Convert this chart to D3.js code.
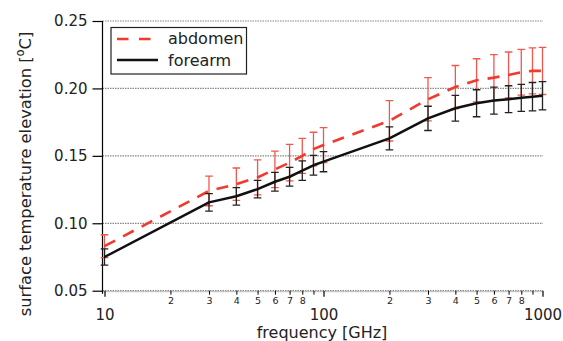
<!DOCTYPE html>
<html><head><meta charset="utf-8">
<script src="https://cdn.jsdelivr.net/npm/d3@7"></script>
<style>
html,body{margin:0;padding:0;background:#fff;}
svg{display:block;font-family:"DejaVu Sans",sans-serif;}
</style></head>
<body>
<svg id="chart" width="563" height="341"></svg>
<script>
const freqs = [10,30,40,50,60,70,80,90,100,200,300,400,500,600,700,800,900,1000];
const abdomen = [0.083,0.124,0.129,0.134,0.140,0.145,0.150,0.155,0.158,0.176,0.192,0.201,0.206,0.208,0.210,0.212,0.213,0.213];
const abdomenErr = [0.0085,0.011,0.012,0.013,0.0135,0.0135,0.013,0.0125,0.013,0.015,0.016,0.016,0.016,0.017,0.017,0.017,0.017,0.0175];
const forearm = [0.075,0.1155,0.120,0.1253,0.1308,0.1345,0.139,0.143,0.1457,0.163,0.1778,0.1853,0.189,0.191,0.192,0.193,0.1939,0.1946];
const forearmErr = [0.006,0.0065,0.0065,0.0065,0.007,0.007,0.0072,0.0073,0.0075,0.0085,0.009,0.0095,0.010,0.010,0.010,0.010,0.0105,0.0105];
const yTicks = [0.05,0.10,0.15,0.20,0.25];
const yTickLabels = ["0.05","0.10","0.15","0.20","0.25"];
const xMajor = [10,100,1000];
const xMajorLabels = ["10","100","1000"];
const xMinor = [20,30,40,50,60,70,80,90,200,300,400,500,600,700,800,900];
const xMinorLabels = ["2","3","4","5","6","7","8","","2","3","4","5","6","7","8",""];
const seriesNames = ["abdomen","forearm"];

const svg = d3.select("#chart");
const x = d3.scaleLog().domain([10,1000]).range([104.5,542.5]);
const y = d3.scaleLinear().domain([0.05,0.25]).range([290.7,21]);
const axisX = 102.5;
const red = "#f03a2e", redBar = "#f0584d", black = "#111";

// grid lines
svg.append("g").selectAll("line").data(yTicks).join("line")
  .attr("x1",axisX).attr("x2",543).attr("y1",d=>y(d)).attr("y2",d=>y(d))
  .attr("stroke","#888").attr("stroke-width",1.2).attr("stroke-dasharray","1.5,1");
// bottom axis line
svg.append("line").attr("x1",axisX).attr("x2",543).attr("y1",y(0.05)+1).attr("y2",y(0.05)+1)
  .attr("stroke","#bbb").attr("stroke-width",1);

// y axis
const ya = d3.axisLeft(y).tickValues(yTicks).tickFormat((d,i)=>yTickLabels[i]).tickSize(10).tickPadding(5);
const gy = svg.append("g").attr("transform",`translate(${axisX},0)`).call(ya);
gy.select(".domain").attr("stroke","#000").attr("stroke-width",1.2).attr("d",`M0,${y(0.25)}V${y(0.05)+3}`);
gy.selectAll(".tick line").attr("stroke","#000").attr("stroke-width",1.2);
gy.selectAll("text").attr("font-size",15).attr("fill","#222").attr("font-family","DejaVu Sans");

// x axis major ticks
const gx = svg.append("g").attr("transform",`translate(0,${y(0.05)})`);
const xa = d3.axisBottom(x).tickValues(xMajor).tickFormat((d,i)=>xMajorLabels[i]).tickSize(6).tickPadding(13);
gx.call(xa);
gx.select(".domain").remove();
gx.selectAll(".tick line").attr("stroke","#000").attr("stroke-width",1.2);
gx.selectAll("text").attr("font-size",15).attr("fill","#222").attr("font-family","DejaVu Sans");
// minor ticks
const gm = svg.append("g").attr("transform",`translate(0,${y(0.05)})`);
const xm = d3.axisBottom(x).tickValues(xMinor).tickFormat((d,i)=>xMinorLabels[i]).tickSize(4).tickPadding(3);
gm.call(xm);
gm.select(".domain").remove();
gm.selectAll(".tick line").attr("stroke","#000").attr("stroke-width",1);
gm.selectAll("text").attr("font-size",9.5).attr("fill","#222").attr("font-family","DejaVu Sans");

// axis titles
svg.append("text").attr("x",322).attr("y",338).attr("text-anchor","middle")
  .attr("font-size",16).attr("fill","#222").text("frequency [GHz]");
const yl = svg.append("text").attr("transform","translate(31,174) rotate(-90)")
  .attr("text-anchor","middle").attr("font-size",16.3).attr("fill","#222");
yl.append("tspan").text("surface temperature elevation [");
yl.append("tspan").attr("font-size",11.5).attr("dy",-7).text("o");
yl.append("tspan").attr("dy",7).text("C]");

// error bars
function errBars(vals, errs, color, cls){
  const g = svg.append("g").attr("stroke",color).attr("stroke-width",1.3).attr("fill","none");
  const data = freqs.map((f,i)=>({f, v:vals[i], e:errs[i]}));
  g.selectAll("path."+cls).data(data).join("path").attr("class",cls)
    .attr("d",d=>{
      const cx = x(d.f), t = y(d.v+d.e), b = y(d.v-d.e), w = 3.8;
      return `M${cx},${t}V${b}M${cx-w},${t}H${cx+w}M${cx-w},${b}H${cx+w}`;
    });
}
const line = d3.line().x(d=>x(d[0])).y(d=>y(d[1]));

errBars(abdomen, abdomenErr, redBar, "ea");
svg.append("path").datum(freqs.map((f,i)=>[f,abdomen[i]])).attr("d",line)
  .attr("fill","none").attr("stroke",red).attr("stroke-width",2.6).attr("stroke-dasharray","12,9");
errBars(forearm, forearmErr, "#222", "ef");
svg.append("path").datum(freqs.map((f,i)=>[f,forearm[i]])).attr("d",line)
  .attr("fill","none").attr("stroke",black).attr("stroke-width",2.5).attr("stroke-linejoin","round");

// legend
const lg = svg.append("g");
lg.append("rect").attr("x",111).attr("y",27.5).attr("width",135.5).attr("height",46.5)
  .attr("fill","#fff").attr("stroke","#222").attr("stroke-width",1.2);
lg.append("line").attr("x1",117).attr("x2",151).attr("y1",39).attr("y2",39)
  .attr("stroke",red).attr("stroke-width",2.6).attr("stroke-dasharray","11.5,10.5");
lg.append("line").attr("x1",117).attr("x2",158).attr("y1",60).attr("y2",60)
  .attr("stroke",black).attr("stroke-width",2.5);
lg.append("text").attr("x",168).attr("y",44).attr("font-size",16).attr("fill","#222").text(seriesNames[0]);
lg.append("text").attr("x",168).attr("y",65.5).attr("font-size",16).attr("fill","#222").text(seriesNames[1]);
</script>
</body></html>
